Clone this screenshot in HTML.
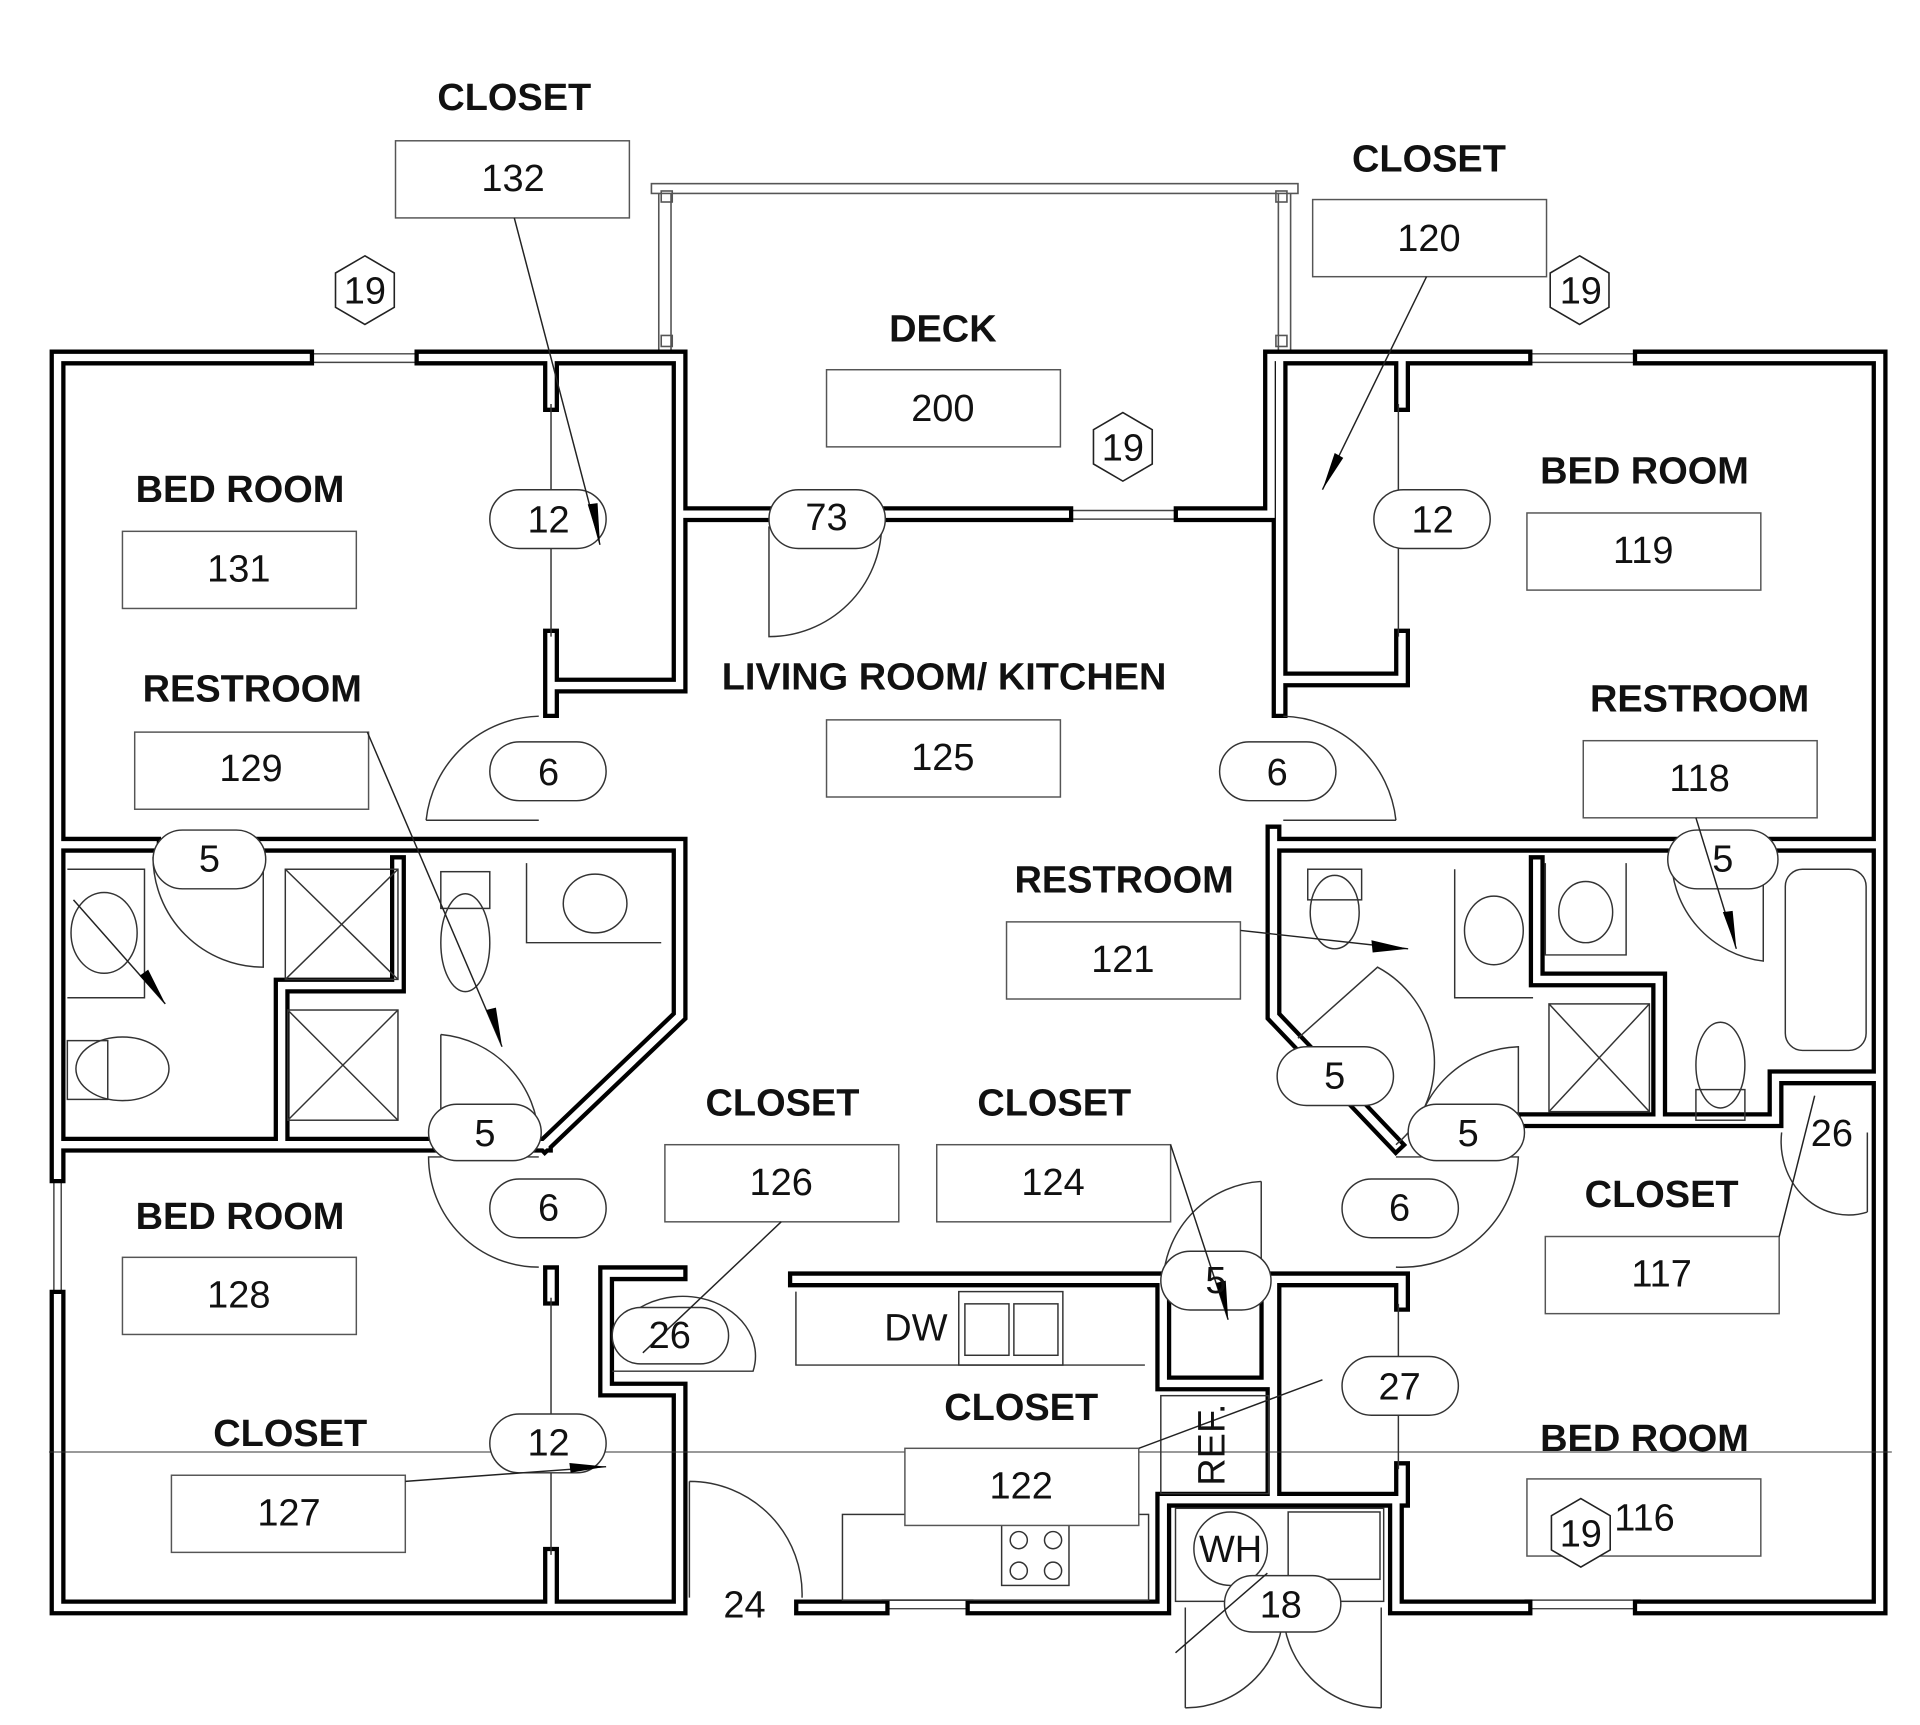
<!DOCTYPE html>
<html><head><meta charset="utf-8"><style>
html,body{margin:0;padding:0;background:#fff;}
svg{display:block}
text{font-family:"Liberation Sans",sans-serif;fill:#111}
.l{font-weight:bold;font-size:31px}
.n{font-size:31px}
</style></head><body>
<svg width="1920" height="1725" viewBox="0 0 1568 1409" preserveAspectRatio="none" xmlns="http://www.w3.org/2000/svg">
<defs>
<g id="hex"><polygon points="0,-28 24,-14 24,14 0,28 -24,14 -24,-14" fill="#fff" stroke="#222" stroke-width="1.3"/></g>
</defs>
<g fill="none" stroke="#555" stroke-width="1.3">
<rect x="532" y="150" width="528" height="8"/>
<line x1="538" y1="158" x2="538" y2="292"/><line x1="548" y1="158" x2="548" y2="292"/>
<line x1="1044" y1="158" x2="1044" y2="292"/><line x1="1054" y1="158" x2="1054" y2="292"/>
<rect x="540" y="156" width="9" height="9"/><rect x="1042" y="156" width="9" height="9"/>
<rect x="540" y="274" width="9" height="9"/><rect x="1042" y="274" width="9" height="9"/>
</g>
<g stroke="#444" stroke-width="1.2">
<line x1="250" y1="289" x2="345" y2="289"/><line x1="250" y1="296" x2="345" y2="296"/>
<line x1="870" y1="417" x2="965" y2="417"/><line x1="870" y1="424" x2="965" y2="424"/>
<line x1="1245" y1="289" x2="1340" y2="289"/><line x1="1245" y1="296" x2="1340" y2="296"/>
<line x1="720" y1="1307" x2="795" y2="1307"/><line x1="720" y1="1314" x2="795" y2="1314"/>
<line x1="1245" y1="1307" x2="1340" y2="1307"/><line x1="1245" y1="1314" x2="1340" y2="1314"/>
<line x1="44" y1="960" x2="44" y2="1060"/><line x1="50" y1="960" x2="50" y2="1060"/>
<line x1="1532" y1="420" x2="1532" y2="1310"/><line x1="1540" y1="420" x2="1540" y2="1310"/>
</g>
<g fill="none" stroke-linejoin="miter" stroke-linecap="square">
<g stroke="#000" stroke-width="13">
<path d="M250 292 H47 V960 M47 1060 V1313 H555 V1135 H495 V1040 H555 M345 292 H555 V420 H628 M720 420 H870 M965 420 H1038 V292 H1245 M1340 292 H1535 V1313 H1340 M1245 1313 H1140 V1225 H950 V1313 H795 M720 1313 H655 M450 292 V330 M450 520 V580 M555 292 V560 H450 M47 690 H125 M215 690 H450 M450 690 H555 V830 L445 935 M47 935 H350 M445 935 H440 M230 935 V805 H325 V705 M450 1040 V1060 M450 1270 V1313 M650 1045 H950 V1130 H1035 V1045 H1145 M1040 1045 V1225 M1145 1045 V1065 M1145 1200 V1225 M1040 680 V830 L1140 935 M1040 690 H1365 M1450 690 H1535 M1255 705 V800 H1355 V915 H1245 M1355 915 H1450 V880 H1530 M1145 295 V330 M1145 520 V555 H1045 V580 M1045 298 V580"/>
</g>
<g stroke="#fff" stroke-width="6">
<path d="M250 292 H47 V960 M47 1060 V1313 H555 V1135 H495 V1040 H555 M345 292 H555 V420 H628 M720 420 H870 M965 420 H1038 V292 H1245 M1340 292 H1535 V1313 H1340 M1245 1313 H1140 V1225 H950 V1313 H795 M720 1313 H655 M450 292 V330 M450 520 V580 M555 292 V560 H450 M47 690 H125 M215 690 H450 M450 690 H555 V830 L445 935 M47 935 H350 M445 935 H440 M230 935 V805 H325 V705 M450 1040 V1060 M450 1270 V1313 M650 1045 H950 V1130 H1035 V1045 H1145 M1040 1045 V1225 M1145 1045 V1065 M1145 1200 V1225 M1040 680 V830 L1140 935 M1040 690 H1365 M1450 690 H1535 M1255 705 V800 H1355 V915 H1245 M1355 915 H1450 V880 H1530 M1145 295 V330 M1145 520 V555 H1045 V580 M1045 298 V580"/>
</g>
</g>
<g fill="none" stroke="#333" stroke-width="1.2">
<line x1="450" y1="330" x2="450" y2="520"/><line x1="1142" y1="330" x2="1142" y2="520"/>
<line x1="450" y1="1060" x2="450" y2="1270"/><line x1="1142" y1="1065" x2="1142" y2="1200"/>
<rect x="233" y="710" width="92" height="90"/><line x1="233" y1="710" x2="325" y2="800"/><line x1="325" y1="710" x2="233" y2="800"/>
<rect x="235" y="825" width="90" height="90"/><line x1="235" y1="825" x2="325" y2="915"/><line x1="325" y1="825" x2="235" y2="915"/>
<rect x="1265" y="820" width="82" height="88"/><line x1="1265" y1="820" x2="1347" y2="908"/><line x1="1347" y1="820" x2="1265" y2="908"/>
<path d="M55 710 H118 V815 H55"/><ellipse cx="85" cy="762" rx="27" ry="33"/>
<ellipse cx="100" cy="873" rx="38" ry="26"/><rect x="55" y="850" width="33" height="48"/>
<path d="M430 705 V770 H540"/><ellipse cx="486" cy="738" rx="26" ry="24"/>
<ellipse cx="380" cy="770" rx="20" ry="40"/><rect x="360" y="712" width="40" height="30"/>
<ellipse cx="1090" cy="745" rx="20" ry="30"/><rect x="1068" y="710" width="44" height="25"/>
<path d="M1188 710 V815 H1252"/><ellipse cx="1220" cy="760" rx="24" ry="28"/>
<path d="M1262 705 V780 H1328 V705"/><ellipse cx="1295" cy="745" rx="22" ry="25"/>
<rect x="1458" y="710" width="66" height="148" rx="14"/>
<ellipse cx="1405" cy="870" rx="20" ry="35"/><rect x="1385" y="890" width="40" height="25"/>
<path d="M628 430 V520 A92 92 0 0 0 720 430"/>
<path d="M348 670 A95 95 0 0 1 440 585"/><line x1="348" y1="670" x2="440" y2="670"/>
<path d="M1140 670 A95 95 0 0 0 1048 585"/><line x1="1048" y1="670" x2="1140" y2="670"/>
<path d="M215 700 V790 A90 90 0 0 1 125 700"/>
<path d="M360 845 V935 A90 90 0 0 1 440 930"/><path d="M360 845 A88 88 0 0 1 440 930"/>
<path d="M440 945 H350 A90 90 0 0 0 440 1035"/>
<path d="M1440 700 V785 A85 85 0 0 1 1365 700"/>
<path d="M1060 848 L1125 790 A88 88 0 0 1 1140 935"/>
<path d="M1155 935 A88 88 0 0 1 1240 855 V935"/>
<path d="M1140 945 H1240 A95 95 0 0 1 1140 1035"/>
<path d="M1030 965 V1045 M1030 965 A85 85 0 0 0 950 1045"/>
<path d="M563 1210 V1305 M563 1210 A92 92 0 0 1 655 1305"/>
<path d="M500 1095 A55 45 0 0 1 615 1120 H500"/>
<path d="M1455 925 A55 60 0 0 0 1525 990 M1525 925 V990"/>
<path d="M968 1313 V1395 M968 1395 A80 80 0 0 0 1048 1313 M1128 1313 V1395 M1128 1395 A80 80 0 0 1 1048 1313"/>
<path d="M650 1055 V1115 H935"/><rect x="783" y="1055" width="85" height="60"/>
<rect x="788" y="1065" width="36" height="42"/><rect x="828" y="1065" width="36" height="42"/>
<rect x="688" y="1237" width="250" height="70"/><rect x="818" y="1245" width="55" height="50"/>
<circle cx="832" cy="1258" r="7"/><circle cx="860" cy="1258" r="7"/><circle cx="832" cy="1283" r="7"/><circle cx="860" cy="1283" r="7"/>
<rect x="948" y="1140" width="88" height="80"/>
<rect x="960" y="1232" width="170" height="76"/>
<circle cx="1005" cy="1265" r="30"/><rect x="1052" y="1235" width="75" height="55"/>
<line x1="40" y1="1186" x2="1545" y2="1186" stroke-width="0.8"/>
</g>
<g fill="#fff" stroke="#555" stroke-width="1.2">
<rect x="323" y="115" width="191" height="63"/>
<rect x="675" y="302" width="191" height="63"/>
<rect x="1072" y="163" width="191" height="63"/>
<rect x="100" y="434" width="191" height="63"/>
<rect x="1247" y="419" width="191" height="63"/>
<rect x="110" y="598" width="191" height="63"/>
<rect x="675" y="588" width="191" height="63"/>
<rect x="1293" y="605" width="191" height="63"/>
<rect x="822" y="753" width="191" height="63"/>
<rect x="543" y="935" width="191" height="63"/>
<rect x="765" y="935" width="191" height="63"/>
<rect x="100" y="1027" width="191" height="63"/>
<rect x="1262" y="1010" width="191" height="63"/>
<rect x="140" y="1205" width="191" height="63"/>
<rect x="739" y="1183" width="191" height="63"/>
<rect x="1247" y="1208" width="191" height="63"/>
</g>
<g fill="#fff" stroke="#333" stroke-width="1.2">
<rect x="400" y="400" width="95" height="48" rx="24"/>
<rect x="628" y="400" width="95" height="48" rx="24"/>
<rect x="1122" y="400" width="95" height="48" rx="24"/>
<rect x="400" y="606" width="95" height="48" rx="24"/>
<rect x="996" y="606" width="95" height="48" rx="24"/>
<rect x="125" y="678" width="92" height="48" rx="24"/>
<rect x="1362" y="678" width="90" height="48" rx="24"/>
<rect x="1043" y="855" width="95" height="48" rx="24"/>
<rect x="350" y="902" width="92" height="46" rx="23"/>
<rect x="1150" y="902" width="95" height="46" rx="23"/>
<rect x="400" y="963" width="95" height="48" rx="24"/>
<rect x="1096" y="963" width="95" height="48" rx="24"/>
<rect x="948" y="1022" width="90" height="48" rx="24"/>
<rect x="500" y="1068" width="95" height="46" rx="23"/>
<rect x="1096" y="1108" width="95" height="48" rx="24"/>
<rect x="400" y="1155" width="95" height="48" rx="24"/>
<rect x="1000" y="1287" width="95" height="46" rx="23"/>
</g>
<g stroke="#222" stroke-width="1.2" fill="none">
<line x1="420" y1="178" x2="490" y2="445"/>
<line x1="1165" y1="226" x2="1080" y2="400"/>
<line x1="300" y1="598" x2="410" y2="855"/>
<line x1="60" y1="735" x2="135" y2="820"/>
<line x1="1013" y1="760" x2="1150" y2="775"/>
<line x1="1385" y1="668" x2="1418" y2="775"/>
<line x1="956" y1="935" x2="1003" y2="1078"/>
<line x1="638" y1="998" x2="525" y2="1105"/>
<line x1="331" y1="1210" x2="495" y2="1198"/>
<line x1="930" y1="1183" x2="1080" y2="1127"/>
<line x1="1453" y1="1010" x2="1482" y2="895"/>
<line x1="960" y1="1350" x2="1035" y2="1285"/>
</g>
<g fill="#000">
<polygon points="490,445 480,412 488,411"/>
<polygon points="1080,400 1090,370 1097,374"/>
<polygon points="410,855 397,825 405,823"/>
<polygon points="135,820 114,797 121,792"/>
<polygon points="1150,775 1120,768 1121,778"/>
<polygon points="1418,775 1407,745 1415,744"/>
<polygon points="1003,1078 993,1048 1001,1046"/>
<polygon points="495,1198 465,1195 466,1203"/>
</g>
<use href="#hex" x="298" y="237"/>
<use href="#hex" x="917" y="365"/>
<use href="#hex" x="1290" y="237"/>
<use href="#hex" x="1291" y="1252"/>
<g class="n" text-anchor="middle">
<text x="298" y="248">19</text><text x="917" y="376">19</text><text x="1291" y="248">19</text><text x="1291" y="1263">19</text>
</g>
<g class="l" text-anchor="middle">
<text x="420" y="90">CLOSET</text>
<text x="1167" y="140">CLOSET</text>
<text x="770" y="279">DECK</text>
<text x="196" y="410">BED ROOM</text>
<text x="1343" y="395">BED ROOM</text>
<text x="206" y="573">RESTROOM</text>
<text x="771" y="563">LIVING ROOM/ KITCHEN</text>
<text x="1388" y="581">RESTROOM</text>
<text x="918" y="729">RESTROOM</text>
<text x="639" y="911">CLOSET</text>
<text x="861" y="911">CLOSET</text>
<text x="196" y="1004">BED ROOM</text>
<text x="1357" y="986">CLOSET</text>
<text x="237" y="1181">CLOSET</text>
<text x="834" y="1160">CLOSET</text>
<text x="1343" y="1185">BED ROOM</text>
</g>
<g class="n" text-anchor="middle">
<text x="419" y="156">132</text><text x="770" y="344">200</text><text x="1167" y="205">120</text>
<text x="195" y="475">131</text><text x="1342" y="460">119</text>
<text x="205" y="638">129</text><text x="770" y="629">125</text><text x="1388" y="646">118</text>
<text x="917" y="794">121</text><text x="638" y="976">126</text><text x="860" y="976">124</text>
<text x="195" y="1068">128</text><text x="1357" y="1051">117</text>
<text x="236" y="1246">127</text><text x="834" y="1224">122</text><text x="1343" y="1250">116</text>
<text x="448" y="435">12</text><text x="675" y="433">73</text><text x="1170" y="435">12</text>
<text x="448" y="641">6</text><text x="1043" y="641">6</text>
<text x="171" y="712">5</text><text x="1407" y="712">5</text><text x="1090" y="889">5</text>
<text x="396" y="936">5</text><text x="1199" y="936">5</text><text x="1496" y="936">26</text>
<text x="448" y="997">6</text><text x="1143" y="997">6</text>
<text x="993" y="1056">5</text><text x="547" y="1101">26</text><text x="1143" y="1143">27</text>
<text x="448" y="1189">12</text><text x="1046" y="1321">18</text><text x="608" y="1321">24</text>
<text x="748" y="1095">DW</text><text x="1005" y="1276">WH</text>
<text transform="translate(1000,1180) rotate(-90)" x="0" y="0">REF.</text>
</g>
</svg>
</body></html>
